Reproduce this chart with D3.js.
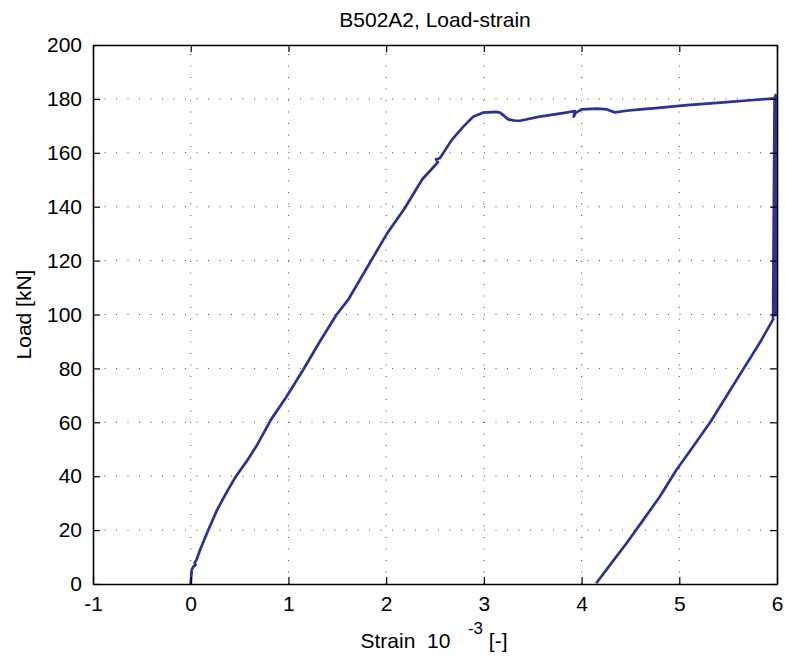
<!DOCTYPE html>
<html>
<head>
<meta charset="utf-8">
<script src="https://cdn.jsdelivr.net/npm/d3@7"></script>
<style>
  html, body { margin: 0; padding: 0; background: #fff; }
  svg { display: block; }
  text { font-family: "Liberation Sans", Arial, Helvetica, sans-serif; fill: #000; white-space: pre; }
</style>
</head>
<body>
<div id="chart"></div>
<script>
// ---- data ----
const titleText = "B502A2, Load-strain";
const yLabel = "Load [kN]";
const xTicks = [-1, 0, 1, 2, 3, 4, 5, 6];
const yTicks = [0, 20, 40, 60, 80, 100, 120, 140, 160, 180, 200];

// strain (10^-3) and load (kN) of the single recorded curve
const strain = [0, 0.01, 0.03, 0.05, 0.04, 0.06, 0.095, 0.18, 0.27, 0.37, 0.46, 0.57, 0.68, 0.82, 0.98, 1.15, 1.32, 1.49, 1.61,
  2.01, 2.19, 2.37, 2.53, 2.51, 2.55, 2.67, 2.79, 2.89, 2.99, 3.13, 3.17, 3.25, 3.32, 3.37, 3.57, 3.81, 3.93, 3.92, 3.94,
  4.00, 4.16, 4.26, 4.34, 4.46, 4.60, 4.73, 5.08, 5.42, 5.76, 5.98, 5.985, 5.985, 5.97, 5.975, 5.96,
  5.83, 5.66, 5.49, 5.32, 5.14, 4.97, 4.80, 4.63, 4.46, 4.29, 4.15];
const load = [0, 5.2, 6.6, 7.0, 7.8, 9.0, 12.6, 20.0, 27.5, 34.2, 39.8, 45.4, 51.6, 60.9, 69.5, 79.4, 89.9, 99.8, 105.4,
  130.1, 139.4, 150.2, 156.5, 157.6, 158.0, 164.7, 169.7, 173.4, 174.9, 175.2, 174.8, 172.4, 171.9, 171.9, 173.4, 174.7, 175.5, 173.4, 174.8,
  176.1, 176.4, 176.1, 175.0, 175.6, 176.1, 176.5, 177.7, 178.6, 179.6, 180.2, 181.4, 99.8, 100.5, 180.5, 98.2,
  89.9, 80.0, 70.1, 60.2, 50.9, 42.3, 32.4, 23.7, 15.1, 7.0, 0.3];

// ---- layout ----
const W = 785, H = 661;
const M = { left: 93, right: 785 - 777, top: 45, bottom: 661 - 584 };
const FS = 21;

const svg = d3.select("#chart").append("svg").attr("width", W).attr("height", H);

const x = d3.scaleLinear().domain([-1, 6]).range([M.left, W - M.right]);
const y = d3.scaleLinear().domain([0, 200]).range([H - M.bottom, M.top]);

const x0 = M.left, x1 = W - M.right, y0 = H - M.bottom, y1 = M.top;

// grid
const grid = svg.append("g").attr("stroke", "#444").attr("stroke-width", 1).attr("stroke-dasharray", "1,10.5");
xTicks.slice(1, -1).forEach(t => {
  grid.append("line").attr("x1", x(t)).attr("x2", x(t)).attr("y1", y0).attr("y2", y1);
});
yTicks.slice(1, -1).forEach(t => {
  grid.append("line").attr("x1", x0).attr("x2", x1).attr("y1", y(t)).attr("y2", y(t));
});

// curve
const pts = strain.map((s, i) => [s, load[i]]);
svg.append("path")
  .datum(pts)
  .attr("fill", "none")
  .attr("stroke", "#2b3196")
  .attr("stroke-width", 2.7)
  .attr("stroke-linejoin", "round")
  .attr("d", d3.line().x(d => x(d[0])).y(d => y(d[1])));

// axes (ticks inward, on all four sides)
const tl = 7;
const fmt = d => String(d);
const axB = svg.append("g").attr("transform", `translate(0,${y0})`)
  .call(d3.axisBottom(x).tickValues(xTicks).tickSizeInner(-tl).tickSizeOuter(0).tickPadding(12).tickFormat(fmt));
const axT = svg.append("g").attr("transform", `translate(0,${y1})`)
  .call(d3.axisTop(x).tickValues(xTicks).tickSizeInner(-tl).tickSizeOuter(0).tickFormat(""));
const axL = svg.append("g").attr("transform", `translate(${x0},0)`)
  .call(d3.axisLeft(y).tickValues(yTicks).tickSizeInner(-tl).tickSizeOuter(0).tickPadding(11).tickFormat(fmt));
const axR = svg.append("g").attr("transform", `translate(${x1},0)`)
  .call(d3.axisRight(y).tickValues(yTicks).tickSizeInner(-tl).tickSizeOuter(0).tickFormat(""));

[axB, axT, axL, axR].forEach(a => {
  a.select(".domain").attr("stroke", "#000").attr("stroke-width", 1.6);
  a.selectAll(".tick line").attr("stroke", "#000").attr("stroke-width", 1.2);
  a.selectAll(".tick text").attr("font-size", FS).attr("font-family", '"Liberation Sans", Arial, sans-serif').attr("fill", "#000");
});
axB.selectAll(".tick text").attr("dy", "0.71em");

// title
svg.append("text")
  .attr("x", (x0 + x1) / 2).attr("y", 27)
  .attr("text-anchor", "middle").attr("font-size", FS)
  .text(titleText);

// y label
svg.append("text")
  .attr("transform", `translate(31,${(y0 + y1) / 2}) rotate(-90)`)
  .attr("text-anchor", "middle").attr("font-size", FS)
  .text(yLabel);

// x label with superscript
const xl = svg.append("text")
  .attr("x", 434).attr("y", 648)
  .attr("text-anchor", "middle").attr("font-size", FS);
xl.append("tspan").text("Strain  10   ");
xl.append("tspan").attr("dy", -14).attr("font-size", 17).text("-3");
xl.append("tspan").attr("dy", 14).text(" [-]");
</script>
</body>
</html>
